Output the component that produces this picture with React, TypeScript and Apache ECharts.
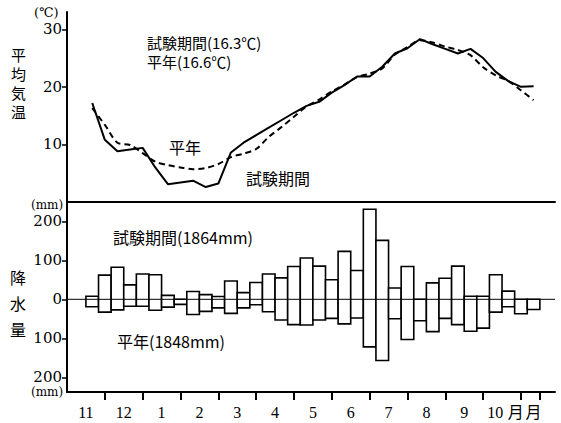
import React, { useEffect, useRef } from "react";
import * as echarts from "echarts";

// x-axis: months from November (value 0 = start of Nov), dekads (旬) start mid-Nov
const monthLabels = ["11", "12", "1", "2", "3", "4", "5", "6", "7", "8", "9", "10", "月", "月"];
const monthLabelPos = [0.5, 1.5, 2.5, 3.5, 4.5, 5.5, 6.5, 7.5, 8.5, 9.5, 10.5, 11.32, 11.86, 12.33];
const monthTicks = [1, 2, 3, 4, 5, 6, 7, 8, 9, 10, 11, 12, 12.5];
const tempTicks = [10, 20, 30];
const rainTicks = [-200, -100, 0, 100, 200];

// mean temperature per dekad (℃)
const testTemp = [
  17.2, 10.8, 8.8, 9.1, 9.4, 6.0, 3.1, 3.4, 3.7, 2.6, 3.2, 8.6,
  10.3, 11.6, 12.9, 14.2, 15.5, 16.7, 17.4, 19.0, 20.3, 21.8, 21.8, 23.5,
  25.8, 26.7, 28.3, 27.4, 26.6, 25.8, 26.6, 25.0, 22.6, 21.0, 20.0, 20.1,
];
const normalTemp = [
  16.3, 13.4, 10.3, 9.9, 8.5, 7.0, 6.4, 6.0, 5.7, 5.9, 6.6, 7.8,
  8.4, 9.2, 11.3, 13.0, 14.8, 16.6, 17.8, 19.2, 20.4, 21.7, 22.3, 23.2,
  25.6, 26.9, 28.1, 27.7, 27.0, 26.4, 25.5, 23.4, 22.0, 21.0, 19.4, 17.7,
];
// precipitation per dekad (mm)
const testRain = [
  8, 62, 82, 37, 65, 63, 10, 0, 20, 12, 7, 47,
  17, 43, 65, 55, 84, 106, 85, 50, 123, 74, 231, 151,
  29, 84, 0, 42, 54, 85, 8, 8, 63, 21, 0, 0,
];
const normalRain = [
  19, 33, 27, 18, 18, 28, 20, 13, 39, 31, 22, 36,
  22, 14, 32, 53, 65, 66, 53, 49, 63, 48, 122, 157,
  50, 103, 55, 83, 49, 65, 82, 74, 33, 19, 37, 26,
];

const DEKAD = 1 / 3;
const dekadPos = (i: number) => 0.5 + (i + 0.5) * DEKAD;

const LAT = '"Liberation Serif", "Noto Sans CJK JP", serif';
const NUM = '"DejaVu Serif", serif';
const JP = '"Noto Sans CJK JP", "Liberation Serif", sans-serif';

export default function App() {
  const ref = useRef<HTMLDivElement>(null);
  useEffect(() => {
    if (!ref.current) return;
    const chart = echarts.init(ref.current, undefined, { renderer: "svg" });
    const axisLineStyle = { color: "#000", width: 2 };
    const txt = (text: string, x: number, y: number, size = 16, font = LAT, extra: any = {}) => ({
      type: "text",
      x,
      y,
      style: { text, fill: "#000", font: `${size}px ${font}`, textAlign: "left", textVerticalAlign: "middle", ...extra },
    });
    const vertical = (chars: string[], x: number, y0: number, step: number, size: number) =>
      chars.map((c, k) => txt(c, x, y0 + k * step, size, JP));
    chart.setOption({
      animation: false,
      backgroundColor: "#fff",
      grid: [
        { left: 67, top: 12, width: 488, height: 190 },
        { left: 67, top: 202, width: 488, height: 190 },
      ],
      xAxis: [
        {
          type: "value", gridIndex: 0, min: 0, max: 12.9,
          axisLine: { show: true, onZero: false, lineStyle: axisLineStyle },
          axisTick: { show: false }, axisLabel: { show: false }, splitLine: { show: false },
        },
        {
          type: "value", gridIndex: 1, min: 0, max: 12.9,
          axisLine: { show: true, onZero: false, lineStyle: axisLineStyle },
          axisTick: { show: true, customValues: monthTicks, length: 8, lineStyle: { color: "#000", width: 2 } },
          axisLabel: {
            show: true,
            customValues: monthLabelPos,
            margin: 12,
            color: "#000",
            fontSize: 16,
            fontFamily: LAT,
            formatter: (v: number) => {
              const k = monthLabelPos.findIndex((p) => Math.abs(p - v) < 1e-6);
              return k >= 0 ? monthLabels[k] : "";
            },
          },
          splitLine: { show: false },
        },
      ],
      yAxis: [
        {
          type: "value", gridIndex: 0, min: 0, max: 33,
          axisLine: { show: true, onZero: false, lineStyle: axisLineStyle },
          axisTick: { show: true, customValues: tempTicks, length: 5, lineStyle: { color: "#000", width: 1.5 } },
          axisLabel: { show: true, customValues: tempTicks, margin: 5, color: "#000", fontSize: 15, fontFamily: NUM },
          splitLine: { show: false },
        },
        {
          type: "value", gridIndex: 1, min: -237.7, max: 249.5,
          axisLine: { show: true, onZero: false, lineStyle: axisLineStyle },
          axisTick: { show: true, customValues: rainTicks, length: 5, lineStyle: { color: "#000", width: 1.5 } },
          axisLabel: {
            show: true, customValues: rainTicks, margin: 5, color: "#000", fontSize: 15, fontFamily: NUM,
            formatter: (v: number) => String(Math.abs(v)),
          },
          splitLine: { show: false },
        },
      ],
      series: [
        {
          type: "line", xAxisIndex: 0, yAxisIndex: 0,
          data: testTemp.map((v, i) => [dekadPos(i), v]),
          symbol: "none", lineStyle: { color: "#000", width: 2 }, z: 3,
        },
        {
          type: "line", xAxisIndex: 0, yAxisIndex: 0,
          data: normalTemp.map((v, i) => [dekadPos(i), v]),
          symbol: "none", smooth: 0.3, lineStyle: { color: "#000", width: 2, type: [6, 4] }, z: 2,
        },
        {
          type: "custom", xAxisIndex: 1, yAxisIndex: 1,
          data: testRain.map((v, i) => [dekadPos(i), v, -normalRain[i]]),
          encode: { x: 0, y: [1, 2] },
          renderItem: (params: any, api: any) => {
            const x = api.value(0);
            const p1 = api.coord([x - DEKAD / 2, api.value(1)]);
            const p2 = api.coord([x + DEKAD / 2, api.value(2)]);
            return {
              type: "rect",
              shape: { x: p1[0], y: p1[1], width: p2[0] - p1[0], height: p2[1] - p1[1] },
              style: { fill: "#fff", stroke: "#000", lineWidth: 1.6 },
            };
          },
          z: 2,
        },
        {
          type: "line", xAxisIndex: 1, yAxisIndex: 1,
          data: [[0, 0], [12.9, 0]],
          symbol: "none", lineStyle: { color: "#000", width: 1 }, z: 4, silent: true,
        },
      ],
      graphic: [
        txt("(℃)", 34, 12, 13, NUM),
        txt("(mm)", 31, 205, 12, NUM),
        txt("(mm)", 31, 392, 12, NUM),
        ...vertical(["平", "均", "気", "温"], 11, 54, 19, 15),
        ...vertical(["降", "水", "量"], 10, 277, 26, 16),
        txt("試験期間(16.3℃)", 147, 42, 15, JP),
        txt("平年(16.6℃)", 147, 61, 15, JP),
        txt("平年", 169, 147, 16, JP),
        txt("試験期間", 246, 178, 16, JP),
        txt("試験期間(1864mm)", 113, 237, 16, JP),
        txt("平年(1848mm)", 117, 341, 16, JP),
      ],
    });
    return () => chart.dispose();
  }, []);
  return (
    <div
      ref={ref}
      style={{ position: "fixed", left: 0, top: 0, width: 561, height: 423, background: "#fff" }}
    />
  );
}
